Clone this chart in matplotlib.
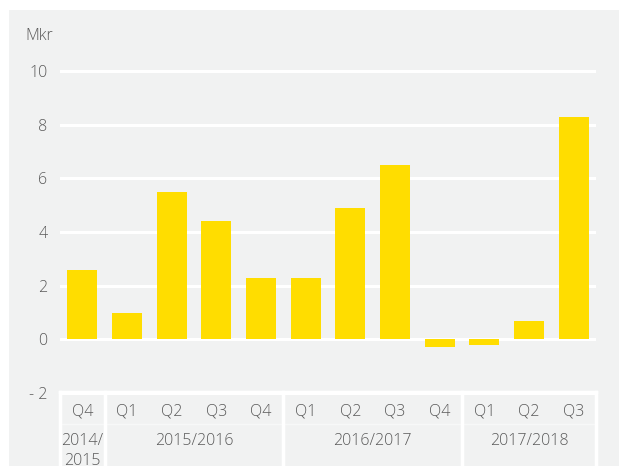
import matplotlib.pyplot as plt
from matplotlib.patches import Rectangle
from matplotlib.transforms import blended_transform_factory

plt.rcParams['font.family'] = ['Open Sans', 'DejaVu Sans']
plt.rcParams['font.weight'] = 'light'

quarters = ["Q4", "Q1", "Q2", "Q3", "Q4", "Q1", "Q2", "Q3", "Q4", "Q1", "Q2", "Q3"]
values = [2.6, 1.0, 5.5, 4.4, 2.3, 2.3, 4.9, 6.5, -0.3, -0.2, 0.7, 8.3]
years = ["2014/\n2015", "2015/2016", "2016/2017", "2017/2018"]
year_spans = [(0, 0), (1, 4), (5, 8), (9, 11)]
yticks = [-2, 0, 2, 4, 6, 8, 10]
ytick_labels = ["- 2", "0", "2", "4", "6", "8", "10"]

bg = "#f1f2f2"
yellow = "#ffdd00"
txt = "#5a5a5a"

W, H = 619, 466
fig = plt.figure(figsize=(W / 100, H / 100), dpi=100)
fig.patch.set_facecolor("white")
fig.add_artist(Rectangle((9 / W, 0), 1, 1 - 10 / H, transform=fig.transFigure,
                         facecolor=bg, edgecolor="none", zorder=-10))

# axes placement in pixels
ppu = (393 - 71) / 12
top_px = 71 - 0.1 * ppu
bot_px = 393 + 0.1 * ppu
ax = fig.add_axes([60 / W, 1 - bot_px / H, (596 - 60) / W, (bot_px - top_px) / H])
ax.set_facecolor("none")
ax.set_xlim(-0.5, 11.5)
ax.set_ylim(-2.1, 10.1)

for y in yticks:
    ax.axhline(y, color="white", lw=2.2, zorder=1)

x = list(range(len(values)))
ax.bar(x, values, width=0.67, color=yellow, zorder=2)

ax.set_yticks(yticks)
ax.set_yticklabels(ytick_labels, color=txt, fontsize=11.5)
ax.tick_params(axis="y", length=0, pad=9)
ax.set_xticks([])
for s in ax.spines.values():
    s.set_visible(False)

fig.text(25 / W, 1 - 36 / H, "Mkr", color=txt, fontsize=11.5, va="center", ha="left")

# category table below the axis
tr = blended_transform_factory(ax.transData, fig.transFigure)
ytop = 1 - 392 / H
ymid = 1 - 424 / H
ax.plot([-0.5, 11.5], [ytop, ytop], color="white", lw=2.5, transform=tr, clip_on=False)
ax.plot([-0.5, 11.5], [ymid, ymid], color="#f7f8f8", lw=1, transform=tr, clip_on=False)
for xv in [-0.5, 0.5, 4.5, 8.5, 11.5]:
    ax.plot([xv, xv], [0, ytop], color="white", lw=2.5, transform=tr, clip_on=False)

for i, q in enumerate(quarters):
    ax.text(i, 1 - 411 / H, q, transform=tr, ha="center", va="center", color=txt, fontsize=11.5)
for (a, b), yl in zip(year_spans, years):
    ax.text((a + b) / 2, 1 - 433 / H, yl, transform=tr, ha="center", va="top",
            color=txt, fontsize=11.5, linespacing=1.35)

fig.savefig("out.png", dpi=100, facecolor=fig.get_facecolor())
